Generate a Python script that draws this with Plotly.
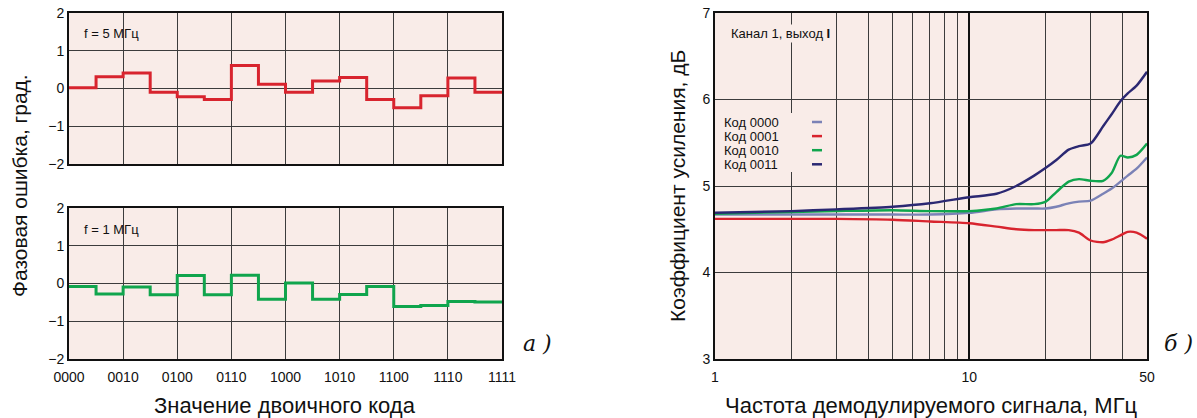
import plotly.graph_objects as go

# ---------------- data ----------------
codes = ["0000", "0001", "0010", "0011", "0100", "0101", "0110", "0111",
         "1000", "1001", "1010", "1011", "1100", "1101", "1110", "1111"]
phase_5mhz = [0.02, 0.31, 0.41, -0.10, -0.22, -0.29, 0.61, 0.11,
              -0.10, 0.20, 0.29, -0.29, -0.51, -0.19, 0.28, -0.10]
phase_1mhz = [-0.08, -0.28, -0.09, -0.30, 0.21, -0.30, 0.22, -0.42,
              0.01, -0.42, -0.29, -0.08, -0.61, -0.58, -0.48, -0.49]

freq_mhz = [1, 2, 3, 5, 7, 10, 12.8, 15.3, 18, 20, 22, 24.6, 27, 30, 33.6, 36.3, 39.3, 42, 45.5, 50]
gain_0000 = [4.67, 4.67, 4.67, 4.67, 4.67, 4.69, 4.73, 4.74, 4.74, 4.74, 4.76, 4.80, 4.82, 4.83, 4.91, 4.97, 5.05, 5.12, 5.20, 5.33]
gain_0001 = [4.62, 4.62, 4.62, 4.61, 4.59, 4.57, 4.53, 4.50, 4.49, 4.49, 4.49, 4.49, 4.46, 4.37, 4.35, 4.38, 4.43, 4.47, 4.46, 4.39]
gain_0010 = [4.68, 4.70, 4.71, 4.72, 4.71, 4.71, 4.74, 4.79, 4.79, 4.82, 4.93, 5.05, 5.08, 5.06, 5.06, 5.15, 5.35, 5.33, 5.36, 5.49]
gain_0011 = [4.69, 4.71, 4.73, 4.76, 4.80, 4.87, 4.91, 5.00, 5.12, 5.21, 5.30, 5.42, 5.46, 5.49, 5.69, 5.83, 5.98, 6.07, 6.16, 6.32]

series_names = ["Код 0000", "Код 0001", "Код 0010", "Код 0011"]
series_colors = ["#7b82b6", "#d8242e", "#10a54d", "#2b2872"]
phase_ticks = [-2, -1, 0, 1, 2]
gain_ticks = [3, 4, 5, 6, 7]
freq_labels = [1, 10, 50]
freq_grid = [2, 3, 4, 5, 6, 7, 8, 9, 20, 30, 40]

# ---------------- layout helpers ----------------
W, H = 1197, 418
BG = "#f9ece8"
GRID = "#3c3c3c"
FONT = "Liberation Sans, Arial, sans-serif"


def px(x):
    return x / W


def py(y):
    return 1 - y / H


fig = go.Figure()

steps_x = list(range(len(codes) + 1))
fig.add_trace(go.Scatter(x=steps_x, y=phase_5mhz + [phase_5mhz[-1]], mode="lines",
                         line=dict(color="#d8242e", width=3, shape="hv"),
                         xaxis="x", yaxis="y", showlegend=False))
fig.add_trace(go.Scatter(x=steps_x, y=phase_1mhz + [phase_1mhz[-1]], mode="lines",
                         line=dict(color="#10a54d", width=3, shape="hv"),
                         xaxis="x2", yaxis="y2", showlegend=False))

for name, col, g in zip(series_names, series_colors,
                        [gain_0000, gain_0001, gain_0010, gain_0011]):
    fig.add_trace(go.Scatter(x=freq_mhz, y=g, mode="lines", name=name,
                             line=dict(color=col, width=2.4, shape="spline", smoothing=0.7),
                             xaxis="x3", yaxis="y3", showlegend=False))

tickfont = dict(family=FONT, size=14, color="#111")
common = dict(showgrid=True, zeroline=False, showline=True, linecolor="#111", linewidth=2,
              mirror=True, ticks="", automargin=False, tickfont=tickfont,
              ticklabeloverflow="allow")
left_x_common = dict(common, range=[0, 16], tickvals=list(range(0, 17, 2)),
                     gridcolor=GRID, gridwidth=1.4, domain=[px(69), px(502)])
left_y_common = dict(common, range=[-2, 2], tickvals=phase_ticks,
                     gridcolor=GRID, gridwidth=1.4)

xt_text = [codes[i] for i in range(0, 16, 2)] + [codes[-1]]

fig.update_layout(
    width=W, height=H, autosize=False,
    margin=dict(l=0, r=0, t=0, b=0, pad=0),
    paper_bgcolor="white", plot_bgcolor=BG,
    font=dict(family=FONT, color="#111"),
    xaxis=dict(left_x_common, anchor="y", showticklabels=False),
    yaxis=dict(left_y_common, anchor="x", domain=[py(164), py(13)]),
    xaxis2=dict(left_x_common, anchor="y2", ticktext=xt_text, ticklabelstandoff=4),
    yaxis2=dict(left_y_common, anchor="x2", domain=[py(359), py(208)]),
    xaxis3=dict(common, type="log", range=[0, 1.69897], domain=[px(715), px(1147)], anchor="y3",
                tickvals=freq_labels, ticktext=[str(v) for v in freq_labels],
                gridcolor="#111", gridwidth=1.6, ticklabelstandoff=4,
                minor=dict(tickvals=freq_grid, showgrid=True, gridcolor=GRID,
                           gridwidth=1.4, ticks="")),
    yaxis3=dict(common, range=[3, 7], tickvals=gain_ticks, domain=[py(359), py(13)],
                anchor="x3", gridcolor=GRID, gridwidth=1.4),
)

ann = []


def note(text, x, y, font, xanchor="center", **kw):
    ann.append(dict(text=text, x=px(x), y=py(y), xref="paper", yref="paper",
                    xanchor=xanchor, yanchor="middle", showarrow=False, font=font, **kw))


xt_font = dict(family=FONT, size=22, color="#111")
yt_font = dict(family=FONT, size=21, color="#111")
note("Фазовая ошибка, град.", 19, 186, yt_font, textangle=-90)
note("Значение двоичного кода", 285, 405, xt_font)
note("Коэффициент усиления, дБ", 677, 186, yt_font, textangle=-90)
note("Частота демодулируемого сигнала, МГц", 931, 405, xt_font)
serif = dict(family="DejaVu Serif, Liberation Serif, serif", size=22, color="#111")
note("<i>a )</i>", 537, 343, serif)
note("<i>б )</i>", 1178, 343, serif)
small = dict(family=FONT, size=13, color="#111")
note("f = 5 МГц", 82, 34, small, xanchor="left")
note("f = 1 МГц", 82, 229, small, xanchor="left")
note("Канал 1, выход <b>I</b>", 729, 34, small, xanchor="left", bgcolor=BG)

shapes = []
# background box behind the legend text
shapes.append(dict(type="rect", xref="paper", yref="paper", x0=px(720), x1=px(828),
                   y0=py(172), y1=py(113), fillcolor=BG, line=dict(width=0), layer="above"))
for i, (name, col) in enumerate(zip(series_names, series_colors)):
    yy = 122 + 14.1 * i
    note(name, 722, yy, small, xanchor="left")
    shapes.append(dict(type="line", xref="paper", yref="paper", x0=px(812), x1=px(822),
                       y0=py(yy), y1=py(yy), line=dict(color=col, width=2.5), layer="above"))

fig.update_layout(annotations=ann, shapes=shapes)
fig.write_html("out.html", config={"displayModeBar": False},
               post_script="document.body.style.margin='0';")
